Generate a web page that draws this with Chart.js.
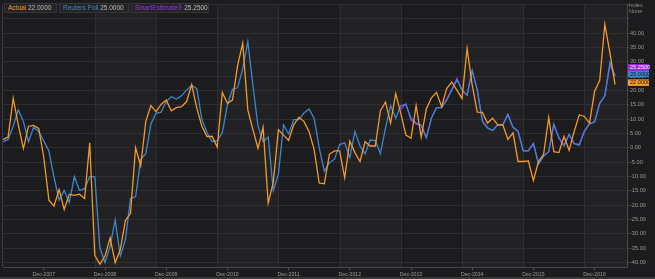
<!DOCTYPE html>
<html>
<head>
<meta charset="utf-8">
<script src="https://cdn.jsdelivr.net/npm/chart.js@4.4.1/dist/chart.umd.min.js"></script>
<style>
  html, body { margin: 0; padding: 0; background: #1c1c1e; }
  #wrap { position: relative; width: 655px; height: 279px; overflow: hidden; }
  #chart { position: absolute; left: 0; top: 0; }
  .leg { position: absolute; top: 3px; height: 10px; box-sizing: border-box; background: #242426;
         border: 1px solid #353537; font: 6.5px "Liberation Sans", Arial, sans-serif; line-height: 8px;
         padding-left: 3px; color: #bcbcbc; white-space: nowrap; }
  .idx { position: absolute; left: 629px; font: 5.6px "Liberation Sans", Arial, sans-serif; color: #8c8c8c; }
</style>
</head>
<body>
<div id="wrap">
  <canvas id="chart" width="655" height="279"></canvas>
  <div class="leg" style="left:4px;width:53px"><span style="color:#f39a2b">Actual</span> 22.0000</div>
  <div class="leg" style="left:59px;width:70px"><span style="color:#3c87cd">Reuters Poll</span> 25.0000</div>
  <div class="leg" style="left:131px;width:78px"><span style="color:#a22ee8">SmartEstimate®</span> 25.2500</div>
  <div class="idx" style="top:2px">Index</div>
  <div class="idx" style="top:8px">None</div>
</div>
<script>
// monthly index, 0 = Apr-2007 ... 120 = Apr-2017
const xTickIndex = [8, 20, 32, 44, 56, 68, 80, 92, 104, 116];
const xTickLabels = ['Dec-2007', 'Dec-2008', 'Dec-2009', 'Dec-2010', 'Dec-2011',
                     'Dec-2012', 'Dec-2013', 'Dec-2014', 'Dec-2015', 'Dec-2016'];
const yTicks = [-40, -35, -30, -25, -20, -15, -10, -5, 0, 5, 10, 15, 20, 25, 30, 35, 40, 45, 50];

const actual = [
  2.9, 3.7, 17.2, 8.0, -0.3, 7.5, 7.8, 6.7, -3.4, -18.3,
  -20.4, -14.6, -21.5, -16.2, -16.6, -16.2, -17.7, 1.7, -37.5, -40.6,
  -37.8, -31.5, -40.1, -35.5, -25.4, -22.9, 0.0, -6.3, 9.2, 14.7,
  12.6, 15.1, 16.6, 12.9, 14.0, 14.3, 16.1, 22.0, 13.8, 7.5,
  3.9, 4.0, 0.2, 19.3, 15.5, 16.6, 28.7, 36.4, 13.2, 6.3,
  -0.2, 7.1, -19.3, -12.0, 6.3, 4.4, 2.5, 8.0, 10.6, 9.2,
  5.7, -0.6, -12.3, -12.6, -2.3, -1.1, -1.1, -10.5, 2.3, -1.7,
  -4.8, 2.1, 0.6, 0.6, 12.9, 15.9, 8.6, 18.9, 12.0, 4.4,
  3.3, 14.7, 3.7, 13.5, 17.4, 19.3, 14.3, 20.6, 22.9, 20.1,
  17.2, 34.6, 21.8, 12.4, 12.3, 8.6, 10.3, 8.0, 8.0, 2.9,
  5.2, -4.8, -4.8, -4.6, -11.4, -4.8, -2.3, 10.6, -1.4, -1.7,
  4.0, -0.9, 5.7, 11.5, 10.9, 8.6, 19.7, 23.5, 43.0, 33.2,
  22.0
];

const reutersPoll = [
  2.1, 2.9, 7.5, 13.2, 9.2, 2.1, 7.1, 5.7, 2.3, -1.1,
  -10.3, -18.3, -14.9, -19.1, -10.1, -14.9, -14.3, -10.1, -10.1, -34.9,
  -40.1, -34.3, -25.2, -37.8, -32.1, -17.7, -17.1, -4.0, -2.1, 8.3,
  12.0, 12.4, 16.1, 17.8, 17.0, 18.1, 20.1, 21.8, 20.6, 9.8,
  5.3, 2.1, 2.5, 5.2, 14.9, 20.4, 20.9, 27.5, 37.0, 21.8,
  7.5, 2.1, 3.7, -14.9, -9.2, 8.0, 4.8, 9.8, 9.8, 12.1,
  13.5, 10.3, 0.0, -8.2, -5.2, -4.0, 1.1, 1.7, -3.4, 5.7,
  0.6, -2.1, 2.7, 2.5, -2.1, 6.9, 14.7, 10.3, 14.7, 15.1,
  10.3, 8.6, 7.8, 3.5, 10.3, 14.0, 14.0, 16.6, 20.1, 23.6,
  20.1, 18.3, 26.9, 20.1, 9.2, 6.9, 6.0, 8.0, 8.0, 11.6,
  7.1, 5.7, -1.1, -1.1, 1.4, -5.7, -2.9, -1.4, 8.3, 3.3,
  0.6, 4.6, 1.4, 0.9, 5.7, 8.3, 9.0, 15.5, 18.1, 29.8,
  25.0
];

// SmartEstimate starts at month 78 (Oct-2013)
const smartStart = 78;
const smartEstimate = [
  13.4, 15.3, 9.6, 8.2, 7.8, 3.5, 10.3, 14.0, 14.0, 16.9,
  20.4, 24.2, 20.1, 18.3, 26.9, 20.1, 9.2, 6.9, 6.0, 8.0,
  8.0, 11.6, 7.1, 5.7, -1.1, -1.1, 1.6, -5.4, -2.9, -1.4,
  8.0, 3.6, 0.9, 4.6, 1.4, 1.2, 5.9, 8.5, 9.0, 15.5,
  18.1, 28.7, 25.25
];

const orange = '#f39a2b';
const blue = '#3c87cd';
const purple = '#a22ee8';
const fontFamily = '"Liberation Sans", Arial, sans-serif';

const toPoints = (arr, start) => arr.map((v, i) => ({ x: start + i, y: v }));

// background bands + vertical grid lines (one month before the Dec ticks... two actually)
const bandPlugin = {
  id: 'bands',
  beforeDraw(chart) {
    const { ctx, chartArea: a, scales: { x } } = chart;
    ctx.save();
    ctx.fillStyle = '#1c1c1e';
    ctx.fillRect(0, 0, chart.width, chart.height);
    ctx.fillStyle = '#222224';
    for (let s = 18; s < 123; s += 24) {
      const x0 = x.getPixelForValue(s);
      const x1 = Math.min(x.getPixelForValue(s + 12), a.right);
      ctx.fillRect(x0, a.top, x1 - x0, a.bottom - a.top);
    }
    ctx.strokeStyle = '#2f2f31';
    ctx.lineWidth = 1;
    for (let g = 18; g < 122; g += 12) {
      const px = Math.round(x.getPixelForValue(g)) + 0.5;
      ctx.beginPath();
      ctx.moveTo(px, a.top);
      ctx.lineTo(px, a.bottom);
      ctx.stroke();
    }
    ctx.strokeStyle = '#3e3e40';
    ctx.beginPath();
    ctx.moveTo(a.left - 0.5, a.top);
    ctx.lineTo(a.left - 0.5, a.bottom);
    ctx.stroke();
    ctx.fillStyle = '#38383a';
    ctx.fillRect(0, chart.height - 2, chart.width, 2);
    ctx.restore();
  }
};

// last-value tags on the right axis
const tagPlugin = {
  id: 'tags',
  afterDraw(chart) {
    const { ctx, chartArea: a, scales: { y } } = chart;
    const tags = [
      { v: actual[actual.length - 1], c: orange, t: '#2a1a08' },
      { v: reutersPoll[reutersPoll.length - 1], c: blue, t: '#0d1d2e' },
      { v: smartEstimate[smartEstimate.length - 1], c: purple, t: '#f0e0ff' }
    ];
    const h = 6.6;
    let prev = Infinity;
    ctx.save();
    ctx.font = '5.6px ' + fontFamily;
    ctx.textBaseline = 'middle';
    tags.forEach(tag => {
      let cy = Math.min(y.getPixelForValue(tag.v) - 2, prev - h);
      prev = cy;
      ctx.fillStyle = tag.c;
      ctx.fillRect(a.right + 1, cy - h / 2, 21, h);
      ctx.fillStyle = tag.t;
      ctx.fillText(tag.v.toFixed(4), a.right + 3, cy + 0.3);
    });
    ctx.restore();
  }
};

new Chart(document.getElementById('chart'), {
  type: 'line',
  data: {
    datasets: [
      { label: 'Actual', data: toPoints(actual, 0), borderColor: orange },
      { label: 'Reuters Poll', data: toPoints(reutersPoll, 0), borderColor: blue },
      { label: 'SmartEstimate®', data: toPoints(smartEstimate, smartStart), borderColor: purple }
    ]
  },
  options: {
    responsive: false,
    animation: false,
    layout: { padding: { left: 3, top: 0, right: 0, bottom: 0 } },
    plugins: { legend: { display: false }, tooltip: { enabled: false } },
    elements: {
      line: { borderWidth: 1.3, tension: 0, fill: false },
      point: { radius: 0 }
    },
    scales: {
      x: {
        type: 'linear',
        min: 0,
        max: 122.35,
        afterBuildTicks: s => { s.ticks = xTickIndex.map(v => ({ value: v })); },
        afterFit: s => { s.height = 12; },
        ticks: {
          color: '#9a9a9a',
          font: { size: 5.2, family: fontFamily },
          padding: 1,
          maxRotation: 0,
          autoSkip: false,
          callback: v => xTickLabels[xTickIndex.indexOf(v)]
        },
        grid: { drawOnChartArea: false, tickColor: '#555557', tickLength: 3 },
        border: { color: '#48484a' }
      },
      y: {
        position: 'right',
        min: -41.6,
        max: 50,
        afterBuildTicks: s => { s.ticks = yTicks.map(v => ({ value: v })); },
        afterFit: s => { s.width = 28; },
        ticks: {
          color: '#9a9a9a',
          font: { size: 5.6, family: fontFamily },
          padding: 1,
          callback: v => (v <= 40 ? v.toFixed(2) : '')
        },
        grid: { color: '#2e2e30', tickColor: '#555557', tickLength: 2 },
        border: { color: '#48484a' }
      }
    }
  },
  plugins: [bandPlugin, tagPlugin]
});
</script>
</body>
</html>
